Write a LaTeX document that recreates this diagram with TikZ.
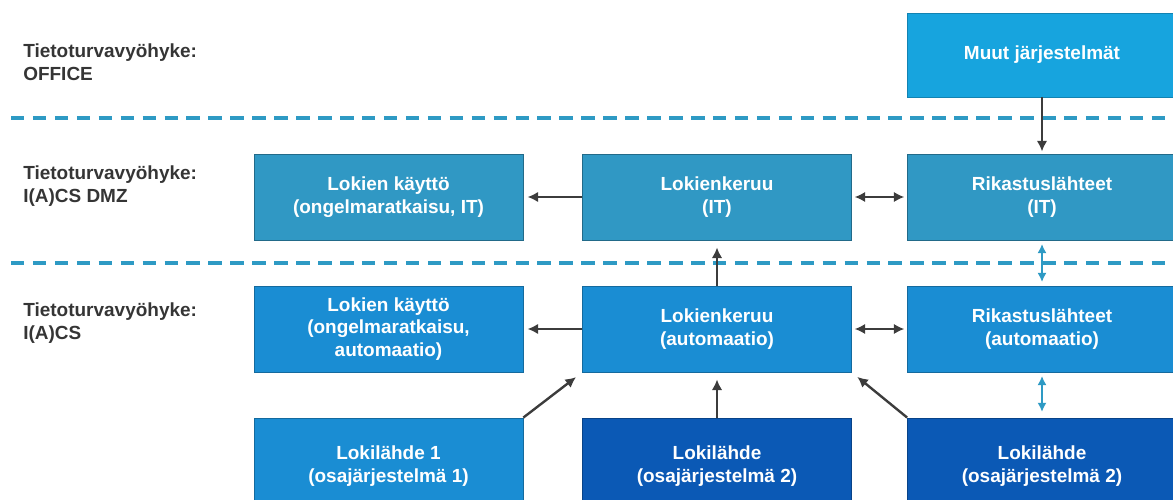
\documentclass[tikz,border=0pt]{standalone}
\usepackage{fontspec}
\setmainfont{Liberation Sans}
\usetikzlibrary{arrows.meta}
\definecolor{officeblue}{HTML}{17A4DE}
\definecolor{dmzblue}{HTML}{3098C4}
\definecolor{icsblue}{HTML}{1A8DD3}
\definecolor{deepblue}{HTML}{0B59B5}
\definecolor{zoneline}{HTML}{2E9AC4}
\definecolor{arrowgray}{HTML}{3C3C3C}
\definecolor{zonetext}{HTML}{353535}
\tikzset{
	box/.style={rectangle, minimum width=6.72cm, minimum height=2.15cm, inner sep=2pt,
		align=center, text=white, line width=0.6pt, font=\fontsize{13.5}{16}\selectfont\bfseries},
	officebox/.style={box, fill=officeblue, draw=officeblue!80!black, minimum height=2.1cm},
	dmzbox/.style={box, fill=dmzblue, draw=dmzblue!70!black},
	icsbox/.style={box, fill=icsblue, draw=icsblue!75!black},
	leafbox/.style={icsbox, minimum height=2.4cm},
	deepbox/.style={box, fill=deepblue, draw=deepblue!75!black, minimum height=2.4cm},
	zonelabel/.style={anchor=north west, inner sep=0pt, align=left, text=zonetext,
		font=\fontsize{13.5}{16.4}\selectfont\bfseries},
	zonesep/.style={draw=zoneline, line width=2.4pt, dash pattern=on 9.6pt off 6pt},
	onearrow/.style={draw=arrowgray, line width=1.7pt, -{Latex[length=7.5pt,width=7.5pt]}},
	botharrow/.style={onearrow, {Latex[length=7.5pt,width=7.5pt]}-{Latex[length=7.5pt,width=7.5pt]}, shorten <=2pt},
	tealarrow/.style={draw=zoneline, line width=1.4pt,
		{Latex[length=6.5pt,width=6.5pt]}-{Latex[length=6.5pt,width=6.5pt]}, shorten <=2.5pt},
}
\begin{document}
\begin{tikzpicture}[x=0.025cm, y=-0.025cm]
	\useasboundingbox (0,0) rectangle (1173,500);
	%
	% zone labels on the left
	\node[zonelabel] (zoneoffice) at (23,43) {Tietoturvavyöhyke:\\OFFICE};
	\node[zonelabel] (zonedmz) at (23,165) {Tietoturvavyöhyke:\\I(A)CS DMZ};
	\node[zonelabel] (zoneics) at (23,302) {Tietoturvavyöhyke:\\I(A)CS};
	% dashed borders between the zones
	\draw[zonesep] (11,118) -- (1173,118);
	\draw[zonesep] (11,263) -- (1173,263);
	%
	% boxes: name/x/y/style/text
	\def\boxes {muut/1042/55/officebox/{Muut järjestelmät},
		kayit/388.5/197/dmzbox/{Lokien käyttö\\(ongelmaratkaisu, IT)},
		kerit/717/197/dmzbox/{Lokienkeruu\\(IT)},
		rikit/1042/197/dmzbox/{Rikastuslähteet\\(IT)},
		kayauto/388.5/329/icsbox/{Lokien käyttö\\(ongelmaratkaisu,\\automaatio)},
		kerauto/717/329/icsbox/{Lokienkeruu\\(automaatio)},
		rikauto/1042/329/icsbox/{Rikastuslähteet\\(automaatio)},
		lahde1/388.5/466/leafbox/{Lokilähde 1\\(osajärjestelmä 1)},
		lahde2/717/466/deepbox/{Lokilähde\\(osajärjestelmä 2)},
		lahde3/1042/466/deepbox/{Lokilähde\\(osajärjestelmä 2)}};
	\foreach \boxname/\x/\y/\kind/\txt in \boxes{
		\node[\kind] (\boxname) at (\x,\y) {\txt};
	}
	%
	% connectors: from/to/style/gap at the tip (pt)
	\def\edges {muut.south/rikit.north/onearrow/1.5,
		kerit.west/kayit.east/onearrow/3,
		kerit.east/rikit.west/botharrow/2,
		kerauto.north/kerit.south/onearrow/5,
		rikauto.north/rikit.south/tealarrow/2.5,
		kerauto.west/kayauto.east/onearrow/3,
		kerauto.east/rikauto.west/botharrow/2,
		rikauto.south/lahde3.north/tealarrow/4,
		lahde1.north east/kerauto.south west/onearrow/5.5,
		lahde2.north/kerauto.south/onearrow/5,
		lahde3.north west/kerauto.south east/onearrow/5};
	\foreach \s/\t/\kind/\gap in \edges{
		\draw[\kind, shorten >=\gap pt] (\s) -- (\t);
	}
\end{tikzpicture}
\end{document}
